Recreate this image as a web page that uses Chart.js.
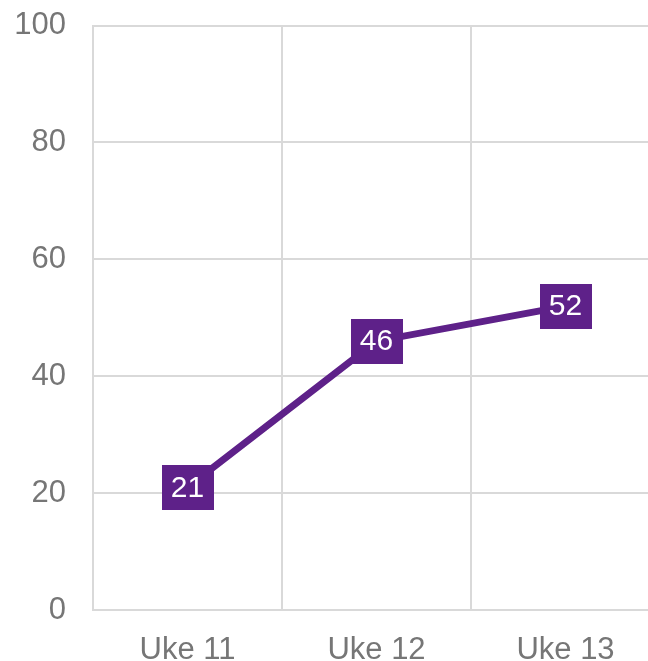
<!DOCTYPE html>
<html>
<head>
<meta charset="utf-8">
<script src="https://cdn.jsdelivr.net/npm/chart.js@4/dist/chart.umd.min.js"></script>
<style>
html,body{margin:0;padding:0;background:#fff;overflow:hidden;}
#wrap{width:648px;height:661px;overflow:hidden;position:relative;}
#c{position:absolute;left:0;top:-20px;}
</style>
</head>
<body>
<div id="wrap"><canvas id="c" width="660" height="681"></canvas></div>
<script>
const categories = ["Uke 11", "Uke 12", "Uke 13"];
const values = [21, 46, 52];
const yTicks = [0, 20, 40, 60, 80, 100];

const PURPLE = "#5e2189";
const GRID = "#d9d9d9";
const TEXT = "#767676";
const FONT = "'Liberation Sans', Arial, sans-serif";

const labelBoxes = {
  id: "labelBoxes",
  afterDatasetsDraw(chart) {
    const ctx = chart.ctx;
    const meta = chart.getDatasetMeta(0);
    ctx.save();
    ctx.font = "30px " + FONT;
    ctx.textAlign = "center";
    ctx.textBaseline = "middle";
    meta.data.forEach((pt, i) => {
      const txt = String(values[i]);
      const w = 52;
      const h = 45;
      ctx.fillStyle = PURPLE;
      ctx.fillRect(Math.round(pt.x - w / 2), Math.round(pt.y - h / 2), w, h);
      ctx.fillStyle = "#ffffff";
      ctx.fillText(txt, pt.x, pt.y + 1);
    });
    ctx.restore();
  }
};

new Chart(document.getElementById("c"), {
  type: "line",
  data: {
    labels: categories,
    datasets: [{
      data: values,
      borderColor: PURPLE,
      borderWidth: 7,
      pointRadius: 0,
      tension: 0,
      fill: false
    }]
  },
  options: {
    responsive: false,
    animation: false,
    layout: { padding: { top: 4, right: 0, left: 0, bottom: 0 } },
    plugins: { legend: { display: false }, tooltip: { enabled: false } },
    scales: {
      x: {
        offset: true,
        grid: { offset: true, color: GRID, lineWidth: 2, drawTicks: false },
        border: { color: GRID, width: 2 },
        ticks: { color: TEXT, font: { family: FONT, size: 31 }, padding: 22 },
        afterFit(s) { s.height = 51; }
      },
      y: {
        min: 0, max: 100,
        afterBuildTicks(s) { s.ticks = yTicks.map(v => ({ value: v })); },
        grid: { color: GRID, lineWidth: 2, drawTicks: false },
        border: { color: GRID, width: 2 },
        ticks: { color: TEXT, font: { family: FONT, size: 31 }, padding: 27 },
        afterFit(s) { s.width = 93; }
      }
    }
  },
  plugins: [labelBoxes]
});
</script>
</body>
</html>
